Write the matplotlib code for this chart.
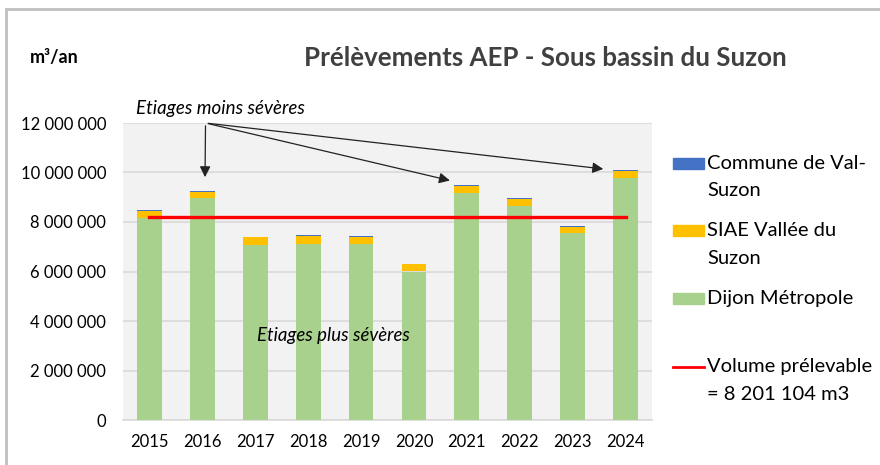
import matplotlib.pyplot as plt
from matplotlib.patches import Rectangle
from matplotlib.lines import Line2D
import numpy as np

plt.rcParams['font.family'] = ['Lato', 'DejaVu Sans']

years = ['2015', '2016', '2017', '2018', '2019', '2020', '2021', '2022', '2023', '2024']
dijon = [8150000, 8960000, 7090000, 7120000, 7120000, 6000000, 9170000, 8630000, 7550000, 9760000]
siae = [280000, 250000, 290000, 300000, 280000, 290000, 300000, 300000, 240000, 300000]
val_suzon = [40000, 40000, 30000, 40000, 30000, 30000, 40000, 30000, 30000, 40000]
volume_prelevable = 8201104

labels = ['Commune de Val-\nSuzon', 'SIAE Vallée du\nSuzon', 'Dijon Métropole',
          'Volume prélevable\n= 8 201 104 m3']
c_blue, c_yellow, c_green, c_red = '#4472c4', '#ffc000', '#a9d18e', '#ff0000'

fig = plt.figure(figsize=(8.8, 4.65), dpi=100)
ax = fig.add_axes([123 / 880, 1 - 420 / 465, (652 - 123) / 880, (420 - 123) / 465])
ax.set_facecolor('#f2f2f2')

x = np.arange(len(years))
w = 0.47
ax.bar(x, dijon, w, color=c_green, zorder=3)
ax.bar(x, siae, w, bottom=dijon, color=c_yellow, zorder=3)
ax.bar(x, val_suzon, w, bottom=np.array(dijon) + np.array(siae), color=c_blue, zorder=3)
ax.plot(x, [volume_prelevable] * len(x), color=c_red, lw=2.4, zorder=4)

ax.set_xlim(-0.5, len(years) - 0.5)
ax.set_ylim(0, 12000000)
ax.set_yticks(np.arange(0, 12000001, 2000000))
ax.set_yticklabels(['{:,}'.format(v).replace(',', ' ') for v in range(0, 12000001, 2000000)])
ax.set_xticks(x)
ax.set_xticklabels(years)
ax.tick_params(length=0, labelsize=12, colors='#000000')
ax.tick_params(axis='y', pad=12)
ax.tick_params(axis='x', pad=10)
ax.grid(axis='y', color='#d9d9d9', lw=1.2, zorder=0)
for s in ['top', 'right', 'left']:
    ax.spines[s].set_visible(False)
ax.spines['bottom'].set_color('#d9d9d9')
ax.spines['bottom'].set_linewidth(1.2)

# annotations
ax.text(1.34, 12250000, 'Etiages moins sévères', style='italic', fontsize=13.5,
        ha='center', va='bottom')
origin = (1.06, 12000000)
for tx, ty in [(1.05, 9700000), (5.73, 9650000), (8.63, 10130000)]:
    ax.annotate('', xy=(tx, ty), xytext=origin,
                arrowprops=dict(arrowstyle='-|>', color='#222222', lw=0.9, mutation_scale=16),
                zorder=5)
ax.text(3.47, 3400000, 'Etiages plus sévères', style='italic', fontsize=13.4,
        ha='center', va='center', zorder=5)

# titles
fig.text(545 / 880, 1 - 58 / 465, 'Prélèvements AEP - Sous bassin du Suzon', fontsize=18.6,
         fontweight='bold', color='#404040', ha='center', va='center')
fig.text(30 / 880, 1 - 58 / 465, 'm³/an', fontsize=13, fontweight='bold', ha='left', va='center')

# legend
leg_items = [(c_blue, 'patch', 164), (c_yellow, 'patch', 231), (c_green, 'patch', 299),
             (c_red, 'line', 367)]
for (col, kind, yp), lab in zip(leg_items, labels):
    if kind == 'patch':
        fig.patches.append(Rectangle((673 / 880, 1 - (yp + 5) / 465), 31 / 880, 11 / 465,
                                     color=col, transform=fig.transFigure))
    else:
        fig.lines.append(Line2D([673 / 880, 704 / 880], [1 - yp / 465] * 2, color=col, lw=2,
                                transform=fig.transFigure))
    fig.text(707 / 880, 1 - (yp - 9) / 465, lab, fontsize=14.5, ha='left', va='top',
             linespacing=1.75)

# outer border
fig.patches.append(Rectangle((6 / 880, -0.1), 1.2, 1 - 9 / 465 + 0.1, fill=False,
                             edgecolor='#c0c0c0', lw=2, transform=fig.transFigure))

fig.savefig('out.png', dpi=100)
